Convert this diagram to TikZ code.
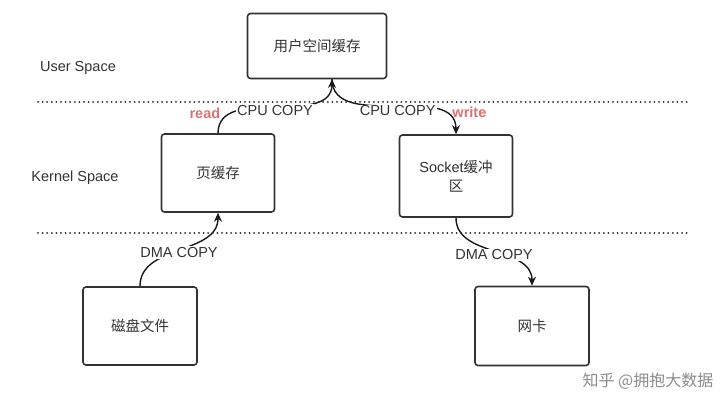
\documentclass[tikz,border=0pt]{standalone}
\usepackage{fontspec}
\setmainfont{Liberation Sans}
\newfontfamily\cjk{Noto Sans CJK SC}
\usetikzlibrary{arrows.meta,positioning}
\definecolor{rwred}{RGB}{226,112,112}
\definecolor{inkgray}{RGB}{51,51,51}

\begin{document}
\begin{tikzpicture}[x=1pt, y=1pt,
    box/.style={draw=inkgray, line width=1.6pt, rounded corners=3pt, fill=white,
      minimum width=114pt, minimum height=78pt, align=center, text=inkgray,
      font=\fontsize{14.5}{19}\selectfont\cjk},
    edge/.style={black!90, line width=1.4pt, -{Stealth[length=9pt,width=8pt]}},
    copylbl/.style={fill=white, inner sep=1pt, text=inkgray,
      font=\fontsize{14.5}{17}\selectfont},
    rw/.style={text=rwred, inner sep=1pt, font=\fontsize{14.5}{17}\selectfont\bfseries},
    layer/.style={text=inkgray, font=\fontsize{14.5}{17}\selectfont},
    sep/.style={black!85, line width=2pt, line cap=round, dash pattern=on 0pt off 4.6pt}]
    \useasboundingbox (0,0) rectangle (720,411);

    % --- buffers ---
    \node[box, minimum width=139pt, minimum height=65pt] (usr) at (317,365) {用户空间缓存};
    \node[box, minimum width=113pt] (page) at (218,238) {页缓存};
    \node[box, minimum width=113pt, minimum height=82pt] (sock) at (456,235)
      {{\rmfamily Socket}缓冲\\区};
    \node[box] (disk) at (140,85) {磁盘文件};
    \node[box, minimum height=79pt] (nic) at (532,85) {网卡};
    \coordinate (usrport) at (332,332);

    % --- layer names ---
    \node[layer] (user) at (78,343) {User Space};
    \node[layer] (kernel) at (75,233) {Kernel Space};

    % --- copies: disk -> page cache -> user -> socket -> nic ---
    \draw[edge] (disk.north) to[out=90, in=-90] node[copylbl, yshift=-3pt] (dmain) {DMA COPY} (page.south);
    \draw[edge] (page.north) to[out=90, in=-90] node[copylbl, yshift=-4pt] (cpuread) {CPU COPY} (usrport);
    \draw[edge] (usrport) to[out=-90, in=90] node[copylbl, pos=0.52, yshift=-4pt] (cpuwrite) {CPU COPY} (sock.north);
    \draw[edge] (sock.south) to[out=-90, in=90] node[copylbl, yshift=-3pt] (dmaout) {DMA COPY} (nic.north);
    \node[rw, left=14pt of cpuread.west, yshift=-3pt] (read) {read};
    \node[rw, right=14pt of cpuwrite.east, yshift=-2pt] (write) {write};

    % --- user / kernel / device boundaries ---
    \foreach \y in {309,178}
      \draw[sep] (38,\y) -- (690,\y);

    \node[text=black!45, font=\fontsize{16}{18}\selectfont\cjk] (zhihu) at (648,30) {知乎 @拥抱大数据};
  \end{tikzpicture}
\end{document}
